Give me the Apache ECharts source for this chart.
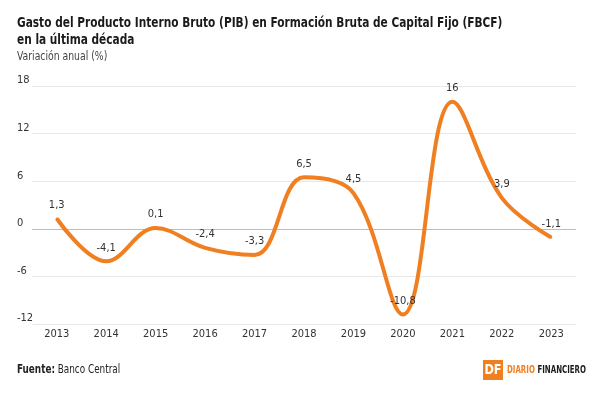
<!DOCTYPE html>
<html>
<head>
<meta charset="utf-8">
<script src="https://cdn.jsdelivr.net/npm/echarts@6/dist/echarts.min.js"></script>
<style>
  html, body { margin: 0; padding: 0; background: #fff; }
  #chart { width: 600px; height: 394px; }
</style>
</head>
<body>
<div id="chart"></div>
<script>
const years = ["2013", "2014", "2015", "2016", "2017", "2018", "2019", "2020", "2021", "2022", "2023"];
const fbcf = [1.3, -4.1, 0.1, -2.4, -3.3, 6.5, 4.5, -10.8, 16, 3.9, -1.1];
const yTicks = [-12, -6, 0, 6, 12, 18];

const narrow = '"Liberation Sans Narrow", "DejaVu Sans Condensed", "Roboto", sans-serif';
const orange = "#f07f22";

const chart = echarts.init(document.getElementById("chart"));

chart.setOption({
  animation: false,
  textStyle: { fontFamily: narrow },
  grid: { left: 32, right: 24, top: 86, bottom: 70 },
  xAxis: {
    type: "category",
    data: years,
    boundaryGap: true,
    axisLine: { show: false },
    axisTick: { show: false },
    axisLabel: { color: "#333", fontSize: 11, margin: 5, fontFamily: narrow }
  },
  yAxis: {
    type: "value",
    min: yTicks[0],
    max: yTicks[yTicks.length - 1],
    interval: 6,
    axisLine: { show: false },
    axisTick: { show: false },
    axisLabel: {
      color: "#333", fontSize: 11, fontFamily: narrow,
      align: "left", margin: 15, verticalAlign: "bottom"
    },
    splitLine: {
      lineStyle: { color: ["#e8e8e8", "#e8e8e8", "#bdbdbd", "#e8e8e8", "#e8e8e8", "#e8e8e8"], width: 1 }
    }
  },
  series: [
    {
      type: "line",
      data: fbcf,
      smooth: 0.38,
      symbol: "circle",
      symbolSize: 2,
      showSymbol: true,
      itemStyle: { color: orange },
      lineStyle: { color: orange, width: 4 },
      label: {
        show: true,
        position: "top",
        distance: 7,
        color: "#333",
        fontSize: 11,
        fontFamily: narrow,
        formatter: (p) => String(p.value).replace(".", ",")
      },
      labelLayout: { hideOverlap: false }
    }
  ],
  graphic: [
    {
      type: "text",
      x: 17, y: 15, scaleX: 0.84,
      style: {
        text: "Gasto del Producto Interno Bruto (PIB) en Formación Bruta de Capital Fijo (FBCF)\nen la última década",
        fill: "#1a1a1a",
        font: "bold 14px " + narrow,
        lineHeight: 17
      }
    },
    {
      type: "text",
      x: 17, y: 51, scaleX: 0.86,
      style: { text: "Variación anual (%)", fill: "#444", font: "12px " + narrow }
    },
    {
      type: "text",
      x: 17, y: 364, scaleX: 0.82,
      style: {
        text: "{b|Fuente:} Banco Central",
        fill: "#222",
        font: "12px " + narrow,
        rich: { b: { fontWeight: "bold", fontSize: 12, fontFamily: narrow, fill: "#222" } }
      }
    },
    {
      type: "rect",
      shape: { x: 483, y: 360, width: 20, height: 20 },
      style: { fill: orange }
    },
    {
      type: "text",
      x: 493, y: 370, scaleX: 0.9,
      style: { text: "DF", fill: "#fff", font: "bold 14px " + narrow, align: "center", verticalAlign: "middle" }
    },
    {
      type: "text",
      x: 507, y: 370, scaleX: 0.78,
      style: {
        text: "{o|DIARIO} {k|FINANCIERO}",
        verticalAlign: "middle",
        rich: {
          o: { fill: orange, fontSize: 10, fontWeight: "bold", fontFamily: narrow },
          k: { fill: "#1a1a1a", fontSize: 10, fontWeight: "bold", fontFamily: narrow }
        }
      }
    }
  ]
});
</script>
</body>
</html>
